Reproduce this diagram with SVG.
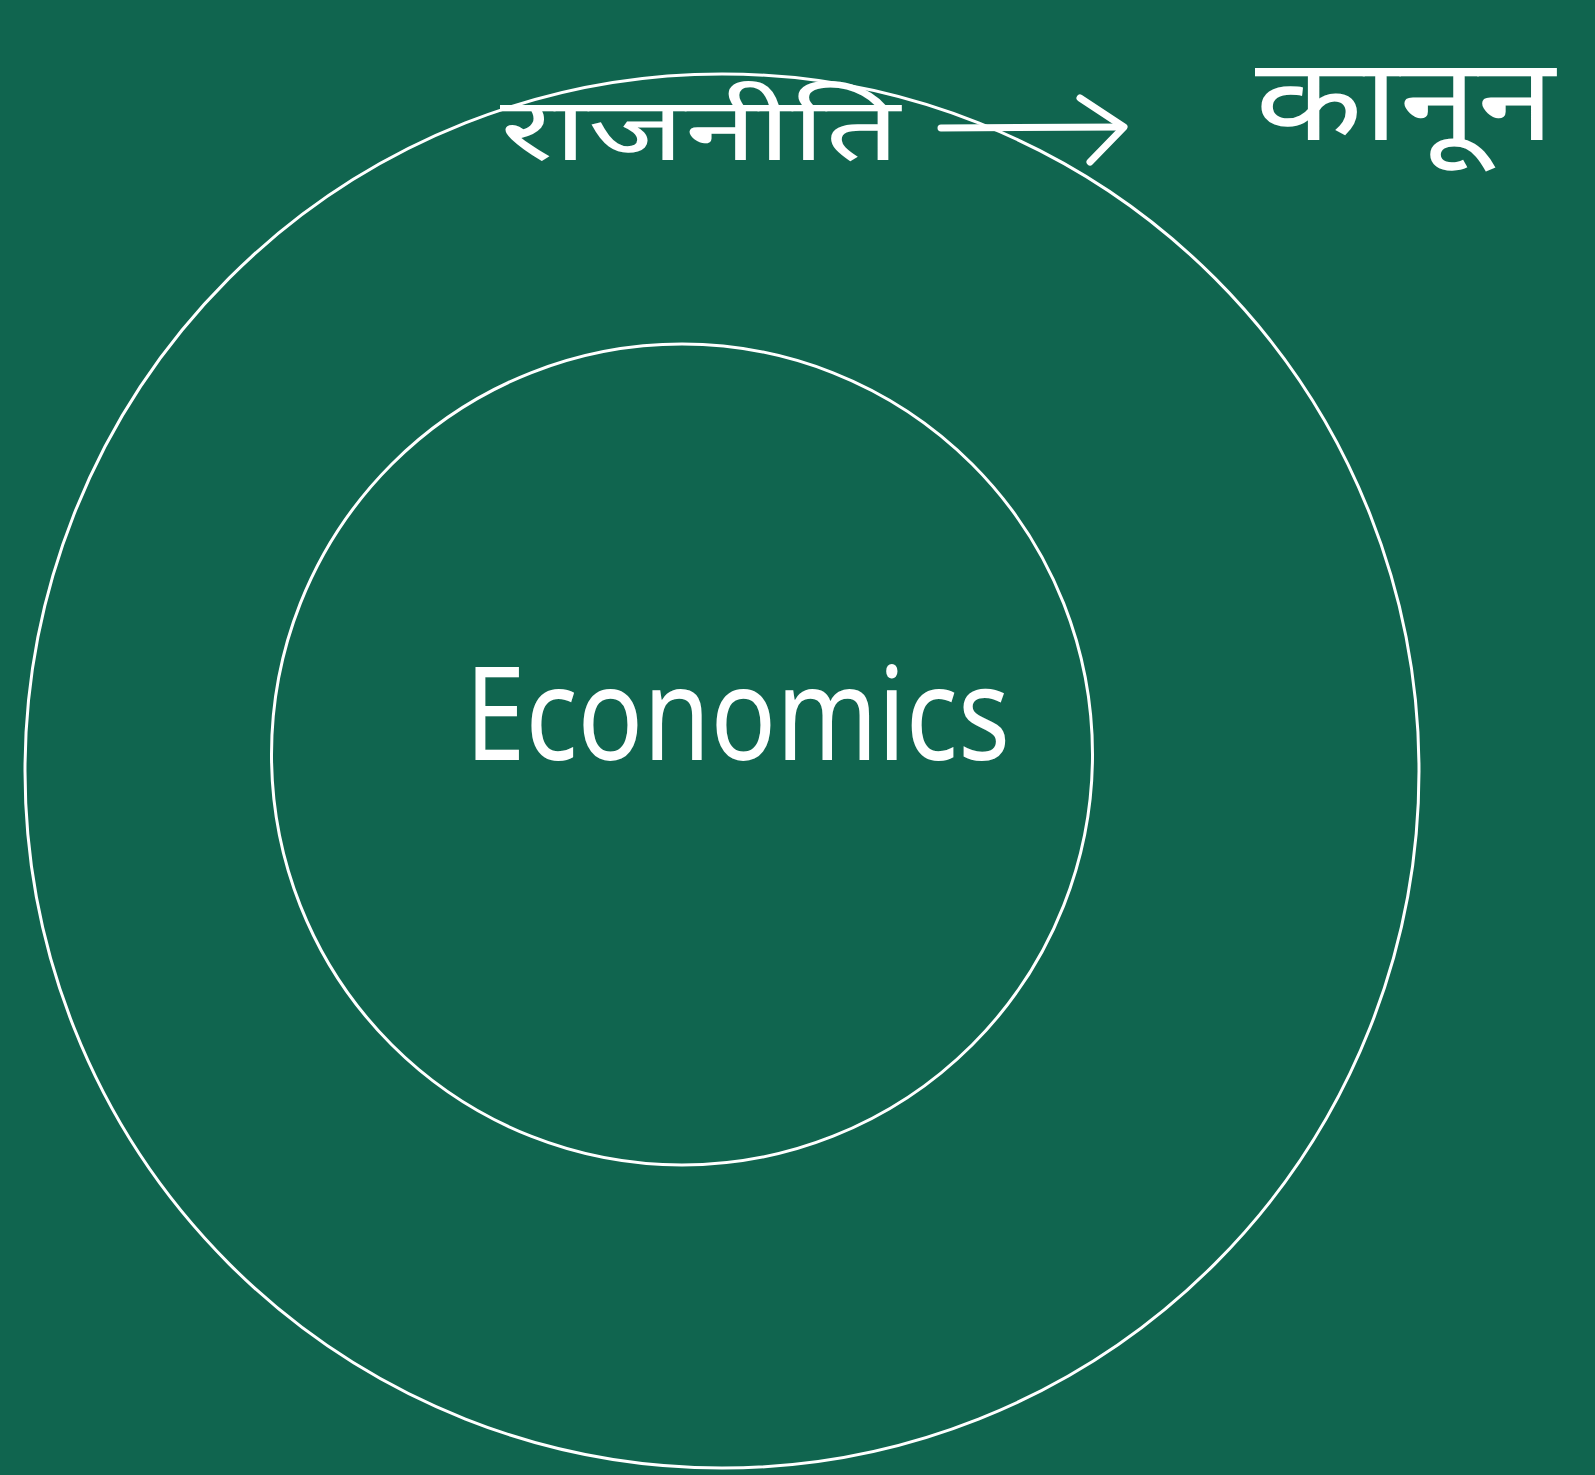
<svg xmlns="http://www.w3.org/2000/svg" width="1595" height="1475" viewBox="0 0 1595 1475">
<style>
.ring{fill:none;stroke:#ffffff;stroke-width:3}
.hand{fill:#ffffff;font-family:"Noto Sans","Noto Sans Devanagari","Liberation Sans",sans-serif}
.conn{fill:none;stroke:#ffffff;stroke-width:7;stroke-linecap:round;stroke-linejoin:round}
</style>
<rect x="0" y="0" width="1595" height="1475" fill="#10654F"/>
<g id="outer">
<circle class="ring" cx="722" cy="771" r="697"/>
<text class="hand" x="500" y="160" font-size="88" textLength="400" lengthAdjust="spacingAndGlyphs">राजनीति</text>
</g>
<g id="inner">
<circle class="ring" cx="682" cy="754.5" r="410.5"/>
<text class="hand" x="465" y="760" font-size="130" textLength="545" lengthAdjust="spacingAndGlyphs">Economics</text>
</g>
<g id="kanoon">
<text class="hand" x="1255" y="140" font-size="116" textLength="300" lengthAdjust="spacingAndGlyphs">कानून</text>
</g>
<g id="connectors">
<path class="conn" d="M941 128 L1122 127"/>
<path class="conn" d="M1080 98 L1124 127 L1090 162"/>
</g>
</svg>
